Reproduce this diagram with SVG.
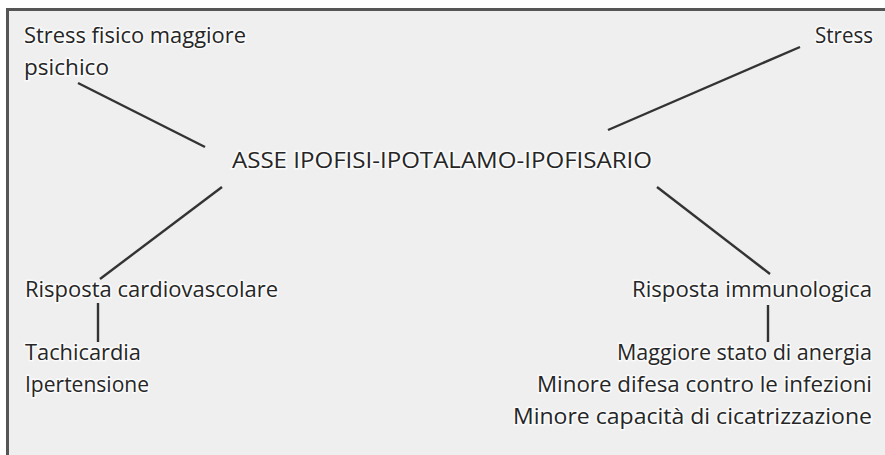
<svg xmlns="http://www.w3.org/2000/svg" width="885" height="455" viewBox="0 0 885 455">
<style>
text{font-family:"Open Sans","Liberation Sans",Arial,sans-serif;font-size:22px;fill:#262626;stroke:#ffffff;stroke-width:3;stroke-opacity:0.7;paint-order:stroke}
.ln{stroke:#333333;stroke-width:2.4;fill:none}
</style>
<rect width="885" height="455" fill="#ffffff"/>
<rect x="8" y="9" width="877" height="446" fill="#efefef"/>
<path d="M7 9.5H885M7.5 8V455" stroke="#555" stroke-width="3" fill="none"/>
<g id="connectors">
<line class="ln" x1="78" y1="83" x2="205" y2="147"/>
<line class="ln" x1="800" y1="47" x2="608" y2="130"/>
<line class="ln" x1="222" y1="187" x2="100" y2="279"/>
<line class="ln" x1="657" y1="187" x2="770" y2="274"/>
<line class="ln" x1="98" y1="303" x2="98" y2="342"/>
<line class="ln" x1="768" y1="305" x2="768" y2="342"/>
</g>
<g id="n-stress-fisico"><text x="24" y="43" textLength="222" lengthAdjust="spacingAndGlyphs">Stress fisico maggiore</text><text x="24" y="75" textLength="85" lengthAdjust="spacingAndGlyphs">psichico</text></g>
<g id="n-stress"><text x="815" y="43" textLength="58" lengthAdjust="spacingAndGlyphs">Stress</text></g>
<g id="n-asse"><text x="232" y="168" textLength="420" lengthAdjust="spacingAndGlyphs">ASSE IPOFISI-IPOTALAMO-IPOFISARIO</text></g>
<g id="n-cardio"><text x="25" y="297" textLength="253" lengthAdjust="spacingAndGlyphs">Risposta cardiovascolare</text></g>
<g id="n-cardio-effects"><text x="25" y="360" textLength="116" lengthAdjust="spacingAndGlyphs">Tachicardia</text><text x="25" y="392" textLength="124" lengthAdjust="spacingAndGlyphs">Ipertensione</text></g>
<g id="n-immuno"><text x="632" y="297" textLength="240" lengthAdjust="spacingAndGlyphs">Risposta immunologica</text></g>
<g id="n-immuno-effects"><text x="617" y="360" textLength="255" lengthAdjust="spacingAndGlyphs">Maggiore stato di anergia</text><text x="537" y="392" textLength="335" lengthAdjust="spacingAndGlyphs">Minore difesa contro le infezioni</text><text x="513" y="424" textLength="359" lengthAdjust="spacingAndGlyphs">Minore capacità di cicatrizzazione</text></g>
</svg>
